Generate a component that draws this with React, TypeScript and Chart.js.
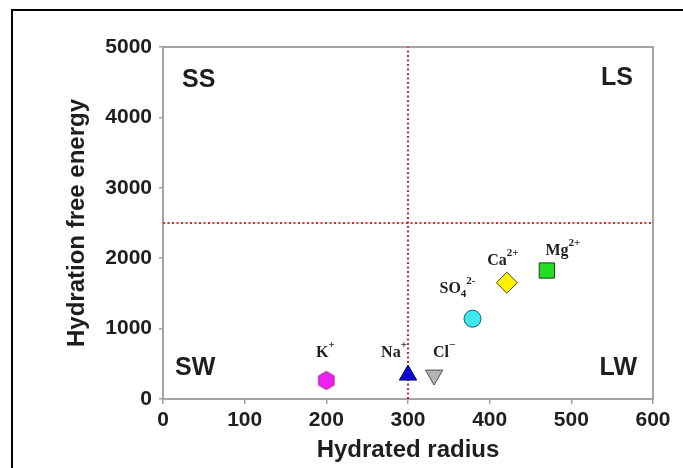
import React, { useEffect, useRef } from 'react';
import { Chart, registerables } from 'chart.js';

Chart.register(...registerables);

// ---- data ----
const ionNames = ['K+', 'Na+', 'Cl-', 'SO4 2-', 'Ca2+', 'Mg2+'];
const hydratedRadius = [200, 300, 332, 379, 421, 470];
const hydrationEnergy = [263, 340, 340, 1141, 1652, 1825];
const labelBase = ['K', 'Na', 'Cl', 'SO', 'Ca', 'Mg'];
const labelSub = ['', '', '', '4', '', ''];
const labelSup = ['+', '+', '\u2212', '2-', '2+', '2+'];
const quadrantLabels = ['SS', 'LS', 'SW', 'LW'];
const xRange = [0, 600];
const yRange = [0, 5000];
const xStep = 100;
const yStep = 1000;
const dividerX = 300;
const dividerY = 2500;

// ---- styles ----
const markerStyles = [
  { style: 'hexagon', radius: 9, rotation: 0, fill: '#f020f0', stroke: '#9a109a' },
  { style: 'triangle', radius: 10, rotation: 0, fill: '#0a0ad2', stroke: '#00005a' },
  { style: 'triangle', radius: 10, rotation: 180, fill: '#b4b4b4', stroke: '#505050' },
  { style: 'circle', radius: 8.5, rotation: 0, fill: '#3ee8f0', stroke: '#1e5868' },
  { style: 'rectRot', radius: 10.5, rotation: 0, fill: '#fff000', stroke: '#4a4a20' },
  { style: 'rect', radius: 10.8, rotation: 0, fill: '#22dd22', stroke: '#1c401c' },
];
// label offsets (px) relative to marker centre: [dx of label centre, dy of baseline]
const labelOffsets = [
  [-1, -23],
  [-14, -18],
  [10, -18],
  [-15, -26],
  [-4, -18],
  [16, -16],
];
const textColor = '#1e1e1e';
const frameColor = '#a3a3a3';
const dividerColor = '#e3262b';
const SANS = '"Liberation Sans", Arial, sans-serif';
const SERIF = '"Liberation Serif", "Times New Roman", serif';

function makeHexagon(r: number, fill: string, stroke: string) {
  const c = document.createElement('canvas');
  const size = Math.ceil(r * 2 + 4);
  c.width = size;
  c.height = size;
  const g = c.getContext('2d')!;
  const cx = size / 2;
  const cy = size / 2;
  g.beginPath();
  for (let i = 0; i < 6; i++) {
    const a = Math.PI / 2 + (i * Math.PI) / 3;
    const x = cx + r * Math.cos(a);
    const y = cy - r * Math.sin(a);
    if (i === 0) g.moveTo(x, y);
    else g.lineTo(x, y);
  }
  g.closePath();
  g.fillStyle = fill;
  g.fill();
  g.lineWidth = 1;
  g.strokeStyle = stroke;
  g.stroke();
  return c;
}

const framePlugin = {
  id: 'framePlugin',
  beforeDraw(chart: any) {
    const ctx = chart.ctx;
    ctx.save();
    ctx.fillStyle = '#ffffff';
    ctx.fillRect(0, 0, chart.width, chart.height);
    ctx.fillStyle = '#000000';
    ctx.fillRect(11, 9, chart.width, 2);
    ctx.fillRect(11, 9, 2, chart.height);
    ctx.restore();
  },
  beforeDatasetsDraw(chart: any) {
    const { ctx, chartArea: a } = chart;
    ctx.save();
    ctx.strokeStyle = frameColor;
    ctx.lineWidth = 2;
    ctx.strokeRect(a.left, a.top, a.right - a.left, a.bottom - a.top);
    ctx.restore();
  },
};

const labelPlugin = {
  id: 'labelPlugin',
  afterDatasetsDraw(chart: any) {
    const { ctx, chartArea: a, scales } = chart;
    ctx.save();
    ctx.fillStyle = textColor;
    // quadrant labels
    ctx.font = `bold 25px ${SANS}`;
    ctx.textBaseline = 'middle';
    ctx.textAlign = 'left';
    ctx.fillText(quadrantLabels[0], a.left + 19, a.top + 33);
    ctx.textAlign = 'right';
    ctx.fillText(quadrantLabels[1], a.right - 20, a.top + 31);
    ctx.textAlign = 'left';
    ctx.fillText(quadrantLabels[2], a.left + 12, a.bottom - 31);
    ctx.textAlign = 'right';
    ctx.fillText(quadrantLabels[3], a.right - 16, a.bottom - 31);

    // ion labels
    ctx.textAlign = 'left';
    ctx.textBaseline = 'alphabetic';
    const baseFont = `bold 16px ${SERIF}`;
    const smallFont = `bold 11px ${SERIF}`;
    for (let i = 0; i < ionNames.length; i++) {
      const px = scales.x.getPixelForValue(hydratedRadius[i]);
      const py = scales.y.getPixelForValue(hydrationEnergy[i]);
      ctx.font = baseFont;
      const wb = ctx.measureText(labelBase[i]).width;
      ctx.font = smallFont;
      const ws = labelSub[i] ? ctx.measureText(labelSub[i]).width : 0;
      const wp = labelSup[i] ? ctx.measureText(labelSup[i]).width : 0;
      const total = wb + ws + wp;
      const x0 = px + labelOffsets[i][0] - total / 2;
      const base = py + labelOffsets[i][1];
      ctx.font = baseFont;
      ctx.fillText(labelBase[i], x0, base);
      ctx.font = smallFont;
      if (labelSub[i]) ctx.fillText(labelSub[i], x0 + wb, base + 4);
      if (labelSup[i]) ctx.fillText(labelSup[i], x0 + wb + ws, base - 9);
    }
    ctx.restore();
  },
};

export default function App() {
  const ref = useRef<HTMLCanvasElement | null>(null);

  useEffect(() => {
    if (!ref.current) return;
    const ionDatasets = ionNames.map((name, i) => {
      const m = markerStyles[i];
      const ps: any = m.style === 'hexagon' ? makeHexagon(m.radius, m.fill, m.stroke) : m.style;
      return {
        label: name,
        data: [{ x: hydratedRadius[i], y: hydrationEnergy[i] }],
        pointStyle: ps,
        pointRadius: m.radius,
        pointRotation: m.rotation,
        backgroundColor: m.fill,
        borderColor: m.stroke,
        borderWidth: 1,
        showLine: false,
        order: 1,
      };
    });
    const lineDatasets = [
      {
        label: 'vertical divider',
        data: [
          { x: dividerX, y: yRange[0] },
          { x: dividerX, y: yRange[1] },
        ],
      },
      {
        label: 'horizontal divider',
        data: [
          { x: xRange[0], y: dividerY },
          { x: xRange[1], y: dividerY },
        ],
      },
    ].map((d) => ({
      ...d,
      showLine: true,
      pointRadius: 0,
      borderColor: dividerColor,
      borderWidth: 2,
      borderDash: [2, 2.5],
      order: 2,
    }));

    const chart = new Chart(ref.current, {
      type: 'scatter',
      data: { datasets: [...lineDatasets, ...ionDatasets] as any },
      options: {
        animation: false,
        responsive: false,
        maintainAspectRatio: false,
        layout: { padding: { left: 14, top: 47, right: 30, bottom: 0 } },
        plugins: { legend: { display: false }, tooltip: { enabled: false } },
        scales: {
          x: {
            type: 'linear',
            min: xRange[0],
            max: xRange[1],
            ticks: {
              stepSize: xStep,
              color: textColor,
              font: { family: SANS, size: 21, weight: 'bold' },
              padding: 4,
              maxRotation: 0,
              autoSkip: false,
              callback: (v: any) => String(v),
            },
            grid: { drawOnChartArea: false, drawTicks: true, tickLength: 5, color: frameColor, lineWidth: 1.5 },
            border: { display: false },
            title: {
              display: true,
              text: 'Hydrated radius',
              color: textColor,
              font: { family: SANS, size: 24, weight: 'bold' },
              padding: { top: 0, bottom: 3.6 },
            },
            afterFit: (s: any) => {
              s.height = 69;
            },
          },
          y: {
            type: 'linear',
            min: yRange[0],
            max: yRange[1],
            ticks: {
              stepSize: yStep,
              color: textColor,
              font: { family: SANS, size: 21, weight: 'bold' },
              padding: 7,
              autoSkip: false,
              callback: (v: any) => String(v),
            },
            grid: { drawOnChartArea: false, drawTicks: true, tickLength: 4, color: frameColor, lineWidth: 1.5 },
            border: { display: false },
            title: {
              display: true,
              text: 'Hydration free energy',
              color: textColor,
              font: { family: SANS, size: 24, weight: 'bold' },
              padding: { top: 48.6, bottom: 0 },
            },
            afterFit: (s: any) => {
              s.width = 149;
            },
          },
        },
      },
      plugins: [framePlugin, labelPlugin],
    });
    return () => chart.destroy();
  }, []);

  return (
    <div style={{ position: 'absolute', left: 0, top: 0, width: 683, height: 468 }}>
      <canvas ref={ref} width={683} height={468} style={{ width: 683, height: 468, display: 'block' }} />
    </div>
  );
}
